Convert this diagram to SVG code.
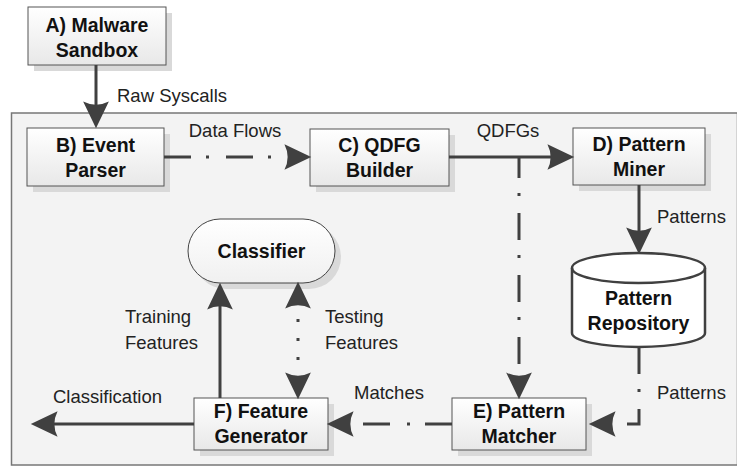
<svg xmlns="http://www.w3.org/2000/svg" width="737" height="467" viewBox="0 0 737 467">
  <defs>
    <linearGradient id="boxFill" x1="0" y1="0" x2="0" y2="1">
      <stop offset="0" stop-color="#ffffff"/>
      <stop offset="1" stop-color="#e8e8e8"/>
    </linearGradient>
    <linearGradient id="ovalFill" x1="0" y1="0" x2="0" y2="1">
      <stop offset="0" stop-color="#ffffff"/>
      <stop offset="1" stop-color="#f0f0f0"/>
    </linearGradient>
    <!-- curved-back arrowhead; back edge at x=0, tip at x=25 -->
    <marker id="head" markerUnits="userSpaceOnUse" markerWidth="30" markerHeight="30"
            viewBox="-1 -13 28 26" refX="8" refY="0" orient="auto-start-reverse">
      <path d="M25,0 L0,-12 Q6,0 0,12 Z" fill="#404040"/>
    </marker>
  </defs>
  <style>
    .shadow { fill: #d9d9d9; }
    .box { fill: url(#boxFill); stroke: #555555; stroke-width: 1; }
    .oval { fill: url(#ovalFill); stroke: #444444; stroke-width: 1; }
    .node-text { font-family: "Liberation Sans", Arial, sans-serif; font-weight: bold; font-size: 19.5px; fill: #111111; text-anchor: middle; }
    .label { font-family: "Liberation Sans", Arial, sans-serif; font-size: 18.5px; fill: #222222; }
    .wire { fill: none; stroke: #404040; stroke-width: 3; stroke-linejoin: miter; }
    .dashdot { stroke-dasharray: 27 15 3 17; }
  </style>

  <!-- analysis environment frame -->
  <rect id="frame" x="11.5" y="113" width="726" height="352" fill="#f3f3f3" stroke="#777777" stroke-width="1.5"/>

  <!-- A) Malware Sandbox -->
  <g id="sandbox">
    <rect class="shadow" x="34" y="13" width="138" height="58"/>
    <rect class="box" x="28" y="7" width="138" height="58"/>
    <text class="node-text" x="97" y="32">A) Malware</text>
    <text class="node-text" x="97" y="57">Sandbox</text>
  </g>

  <!-- B) Event Parser -->
  <g id="event-parser">
    <rect class="shadow" x="33" y="134" width="137" height="58"/>
    <rect class="box" x="27" y="128" width="137" height="58"/>
    <text class="node-text" x="95.5" y="152">B) Event</text>
    <text class="node-text" x="95.5" y="177">Parser</text>
  </g>

  <!-- C) QDFG Builder -->
  <g id="qdfg-builder">
    <rect class="shadow" x="316" y="135" width="139" height="57"/>
    <rect class="box" x="310" y="129" width="139" height="57"/>
    <text class="node-text" x="379.5" y="152">C) QDFG</text>
    <text class="node-text" x="379.5" y="177">Builder</text>
  </g>

  <!-- D) Pattern Miner -->
  <g id="pattern-miner">
    <rect class="shadow" x="579" y="134" width="132" height="57"/>
    <rect class="box" x="573" y="128" width="132" height="57"/>
    <text class="node-text" x="639" y="151">D) Pattern</text>
    <text class="node-text" x="639" y="176">Miner</text>
  </g>

  <!-- Pattern Repository (cylinder) -->
  <g id="pattern-repository">
    <path d="M572,268 L572,333 A66.5,14 0 0 0 705,333 L705,268 A66.5,15 0 0 0 572,268 Z" fill="#ffffff" stroke="#404040" stroke-width="2.5"/>
    <path d="M572,268 A66.5,15 0 0 0 705,268" fill="none" stroke="#404040" stroke-width="2.5"/>
    <text class="node-text" x="638.5" y="305">Pattern</text>
    <text class="node-text" x="638.5" y="330">Repository</text>
  </g>

  <!-- E) Pattern Matcher -->
  <g id="pattern-matcher">
    <rect class="shadow" x="458" y="404" width="134" height="52"/>
    <rect class="box" x="452" y="398" width="134" height="52"/>
    <text class="node-text" x="519" y="418">E) Pattern</text>
    <text class="node-text" x="519" y="443">Matcher</text>
  </g>

  <!-- F) Feature Generator -->
  <g id="feature-generator">
    <rect class="shadow" x="200" y="404" width="134" height="52"/>
    <rect class="box" x="194" y="398" width="134" height="52"/>
    <text class="node-text" x="261" y="418">F) Feature</text>
    <text class="node-text" x="261" y="443">Generator</text>
  </g>

  <!-- Classifier -->
  <g id="classifier">
    <rect class="shadow" x="194" y="225" width="147" height="64" rx="32"/>
    <rect class="oval" x="188" y="219" width="147" height="64" rx="32"/>
    <text class="node-text" x="261.5" y="258">Classifier</text>
  </g>

  <!-- data flow connectors -->
  <g id="connectors">
    <path class="wire" d="M96,65 V110" marker-end="url(#head)"/>
    <path class="wire dashdot" d="M164,157 H293" marker-end="url(#head)"/>
    <path class="wire" d="M449,157 H556" marker-end="url(#head)"/>
    <path class="wire dashdot" style="stroke-dashoffset:6" d="M519,157 V381" marker-end="url(#head)"/>
    <path class="wire" d="M639,185 V236" marker-end="url(#head)"/>
    <path class="wire dashdot" d="M639,347 V424 H607" marker-end="url(#head)"/>
    <path class="wire dashdot" d="M452,424 H345" marker-end="url(#head)"/>
    <path class="wire" d="M220,398 V301" marker-end="url(#head)"/>
    <path class="wire" style="stroke-dasharray:0 19 3 16 3 16 3 100" d="M298,300 V381" marker-start="url(#head)" marker-end="url(#head)"/>
    <path class="wire" d="M194,424 H49" marker-end="url(#head)"/>
  </g>

  <!-- connector labels -->
  <g id="labels">
    <text class="label" x="117" y="102">Raw Syscalls</text>
    <text class="label" x="235" y="137" text-anchor="middle">Data Flows</text>
    <text class="label" x="508" y="137" text-anchor="middle">QDFGs</text>
    <text class="label" x="657" y="223">Patterns</text>
    <text class="label" x="657" y="399">Patterns</text>
    <text class="label" x="389" y="399" text-anchor="middle">Matches</text>
    <text class="label" x="125" y="323">Training</text>
    <text class="label" x="125" y="349">Features</text>
    <text class="label" x="325" y="323">Testing</text>
    <text class="label" x="325" y="349">Features</text>
    <text class="label" x="53" y="403">Classification</text>
  </g>
</svg>
